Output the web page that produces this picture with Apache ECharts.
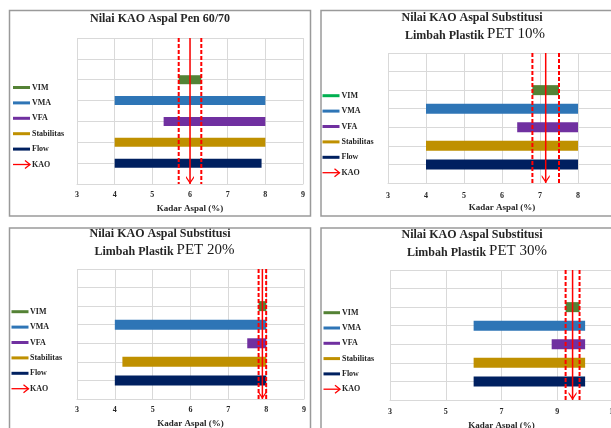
<!DOCTYPE html>
<html><head><meta charset="utf-8">
<script src="https://cdn.jsdelivr.net/npm/echarts@6/dist/echarts.min.js"></script>
<style>html,body{margin:0;padding:0;background:#fff;overflow:hidden}#c{width:611px;height:428px}</style>
</head><body><div id="c"></div>
<script>
// ---------- DATA ----------
const categories = ['VIM', 'VMA', 'VFA', 'Stabilitas', 'Flow'];
const legendNames = ['VIM', 'VMA', 'VFA', 'Stabilitas', 'Flow', 'KAO'];
const axisTitle = 'Kadar Aspal (%)';

const titlePen = ['Nilai KAO Aspal Pen 60/70'];
const title10 = ['Nilai KAO Aspal Substitusi', 'Limbah Plastik ', 'PET 10%'];
const title20 = ['Nilai KAO Aspal Substitusi', 'Limbah Plastik ', 'PET 20%'];
const title30 = ['Nilai KAO Aspal Substitusi', 'Limbah Plastik ', 'PET 30%'];

// range [start, end] of each criterion (Kadar Aspal %)
const startPen = [5.7, 4, 5.3, 4, 4];
const endPen   = [6.3, 8, 8, 8, 7.9];
const kaoPen   = [5.7, 6.0, 6.3];   // lower, KAO, upper

const start10 = [6.8, 4, 6.4, 4, 4];
const end10   = [7.5, 8, 8, 8, 8];
const kao10   = [6.8, 7.15, 7.5];

const start20 = [7.8, 4, 7.5, 4.2, 4];
const end20   = [8.0, 8, 8, 8, 8];
const kao20   = [7.8, 7.9, 8.0];

const start30 = [9.3, 6, 8.8, 6, 6];
const end30   = [9.8, 10, 10, 10, 10];
const kao30   = [9.3, 9.55, 9.8];

// x axis: min, max, interval
const axisPen = [3, 9, 1];
const axis10  = [3, 9, 1];
const axis20  = [3, 9, 1];
const axis30  = [3, 11, 2];

// ---------- STYLE / LAYOUT ----------
const barColors = ['#548235', '#2E75B6', '#7030A0', '#BF9000', '#002060'];
const RED = '#ff0000';
const SERIF = '"Liberation Serif", "Times New Roman", serif';

const panels = [
  {title: titlePen, start: startPen, end: endPen, kao: kaoPen, axis: axisPen,
   box: [9.5, 10.5, 301, 205.5], t1: [160, 19], t2: null,
   grid: {left: 77, top: 38, width: 226, height: 146},
   leg: {x0: 13, x1: 30, tx: 32, y0: 87.5, dy: 15.4}, legVim: '#548235',
   margin: 7, nameGap: 20, barWidth: 9},
  {title: title10, start: start10, end: end10, kao: kao10, axis: axis10,
   box: [321, 10.5, 400, 205.5], t1: [472, 18.3], t2: [475, 34.5],
   grid: {left: 388, top: 53, width: 228, height: 130},
   leg: {x0: 322.5, x1: 339.5, tx: 341.5, y0: 95.7, dy: 15.4}, legVim: '#00B050',
   margin: 9, nameGap: 20, barWidth: 10},
  {title: title20, start: start20, end: end20, kao: kao20, axis: axis20,
   box: [9.5, 228, 301, 300], t1: [160, 234], t2: [164.5, 250.3],
   grid: {left: 77, top: 269, width: 227, height: 130},
   leg: {x0: 11.5, x1: 28.5, tx: 30, y0: 311.7, dy: 15.4}, legVim: '#548235',
   margin: 6.5, nameGap: 20, barWidth: 10},
  {title: title30, start: start30, end: end30, kao: kao30, axis: axis30,
   box: [321, 228, 400, 300], t1: [472, 235], t2: [477, 251],
   grid: {left: 390, top: 270, width: 223, height: 130},
   leg: {x0: 323.5, x1: 340, tx: 342, y0: 312.7, dy: 15.3}, legVim: '#548235',
   margin: 7.5, nameGap: 21, barWidth: 10}
];

const rowNames = ['_a', '_b'].concat(categories, ['_c']);
const pad = arr => ['-', '-'].concat(arr, ['-']);
const lastRow = rowNames.length - 1;

const option = {animation: false, backgroundColor: '#fff', grid: [], xAxis: [], yAxis: [], series: [], graphic: []};

panels.forEach((p, i) => {
  option.grid.push(Object.assign({containLabel: false, outerBoundsMode: 'none'}, p.grid));
  option.xAxis.push({
    type: 'value', gridIndex: i, min: p.axis[0], max: p.axis[1], interval: p.axis[2],
    axisLine: {show: true, lineStyle: {color: '#d9d9d9', width: 1}},
    axisTick: {show: false},
    splitLine: {show: true, lineStyle: {color: '#d9d9d9', width: 1}},
    axisLabel: {color: '#262626', fontFamily: SERIF, fontWeight: 'bold', fontSize: 8, margin: p.margin,
      hideOverlap: false},
    name: axisTitle, nameLocation: 'middle', nameGap: p.nameGap,
    nameTextStyle: {color: '#262626', fontFamily: SERIF, fontWeight: 'bold', fontSize: 9}
  });
  option.yAxis.push({
    type: 'category', gridIndex: i, data: rowNames, inverse: true, boundaryGap: false,
    axisLine: {show: false}, axisTick: {show: false}, axisLabel: {show: false},
    splitLine: {show: true, lineStyle: {color: '#d9d9d9', width: 1}}
  });
  // invisible base
  option.series.push({
    type: 'bar', xAxisIndex: i, yAxisIndex: i, stack: 'st' + i, silent: true,
    barWidth: p.barWidth, itemStyle: {color: 'rgba(0,0,0,0)'}, data: pad(p.start), z: 2
  });
  // visible range
  option.series.push({
    type: 'bar', xAxisIndex: i, yAxisIndex: i, stack: 'st' + i, silent: true,
    barWidth: p.barWidth, z: 3,
    data: pad(p.end.map((e, k) => ({value: +(e - p.start[k]).toFixed(4), itemStyle: {color: barColors[k]}})))
  });
  // dashed bounds
  [p.kao[0], p.kao[2]].forEach(v => {
    option.series.push({
      type: 'line', xAxisIndex: i, yAxisIndex: i, silent: true, clip: false, z: 6,
      symbol: 'none', data: [[v, 0], [v, lastRow]],
      lineStyle: {color: RED, width: 2, type: [4, 2]}
    });
  });
  // KAO arrow
  option.series.push({
    type: 'line', xAxisIndex: i, yAxisIndex: i, silent: true, clip: false, z: 7,
    symbol: 'path://M0,0L5,6L10,0L10,2.2L5,8.5L0,2.2Z', symbolSize: [8, 8], symbolOffset: [0, -4],
    showSymbol: true, showAllSymbol: true,
    itemStyle: {color: RED}, lineStyle: {color: RED, width: 1.5},
    data: [{value: [p.kao[1], 0], symbol: 'none'}, {value: [p.kao[1], lastRow]}]
  });

  // panel border
  option.graphic.push({type: 'rect', silent: true, z: 1,
    shape: {x: p.box[0], y: p.box[1], width: p.box[2], height: p.box[3]},
    style: {fill: 'none', stroke: '#9a9a9a', lineWidth: 1.5}});
  // titles
  option.graphic.push({type: 'text', silent: true, x: p.t1[0], y: p.t1[1],
    style: {text: p.title[0], align: 'center', verticalAlign: 'middle',
      font: 'bold 12px ' + SERIF, fill: '#262626'}});
  if (p.t2) {
    option.graphic.push({type: 'text', silent: true, x: p.t2[0], y: p.t2[1],
      style: {text: '{a|' + p.title[1] + '}{b|' + p.title[2] + '}', align: 'center', verticalAlign: 'middle',
        fill: '#262626',
        rich: {a: {font: 'bold 12px ' + SERIF, fill: '#262626', verticalAlign: 'bottom'},
               b: {font: '15px ' + SERIF, fill: '#1a1a1a', verticalAlign: 'bottom'}}}});
  }
  // legend
  legendNames.forEach((n, k) => {
    const y = p.leg.y0 + k * p.leg.dy;
    if (k < 5) {
      option.graphic.push({type: 'line', silent: true,
        shape: {x1: p.leg.x0, y1: y, x2: p.leg.x1, y2: y},
        style: {stroke: k === 0 ? p.legVim : barColors[k], lineWidth: 3}});
    } else {
      option.graphic.push({type: 'line', silent: true,
        shape: {x1: p.leg.x0, y1: y, x2: p.leg.x1, y2: y}, style: {stroke: RED, lineWidth: 1.3}});
      option.graphic.push({type: 'polyline', silent: true,
        shape: {points: [[p.leg.x1 - 5, y - 4], [p.leg.x1, y], [p.leg.x1 - 5, y + 4]]},
        style: {stroke: RED, lineWidth: 1.3, fill: 'none'}});
    }
    option.graphic.push({type: 'text', silent: true, x: p.leg.tx, y: y,
      style: {text: n, align: 'left', verticalAlign: 'middle', font: 'bold 8px ' + SERIF, fill: '#262626'}});
  });
});

const chart = echarts.init(document.getElementById('c'), null, {renderer: 'canvas'});
chart.setOption(option);
</script></body></html>
